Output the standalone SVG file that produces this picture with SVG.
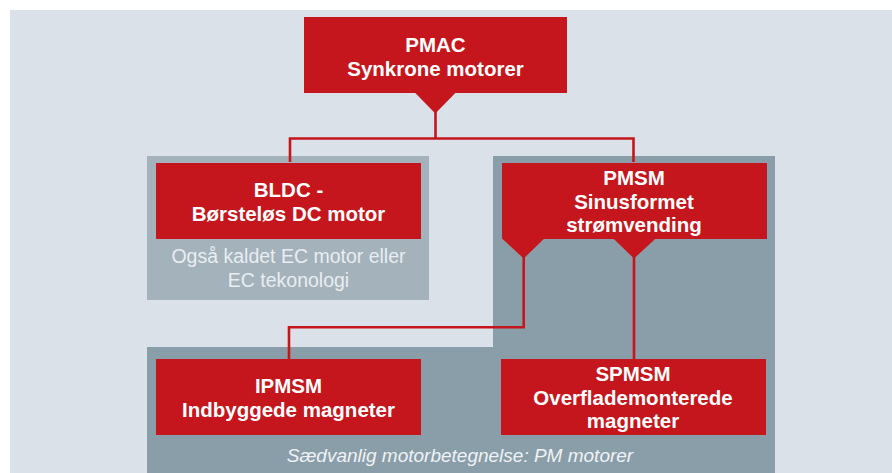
<svg xmlns="http://www.w3.org/2000/svg" width="892" height="473" viewBox="0 0 892 473">
<style>
.box{fill:#c4161c}
.t{font-family:"Liberation Sans",Arial,sans-serif;font-weight:bold;font-size:20.5px;fill:#ffffff;text-anchor:middle}
.note{font-family:"Liberation Sans",Arial,sans-serif;font-size:19.5px;fill:#e9edf0;text-anchor:middle}
.foot{font-family:"Liberation Sans",Arial,sans-serif;font-style:italic;font-size:19px;fill:#eef2f5;text-anchor:middle}
.ln{fill:none;stroke:#c4161c;stroke-width:2.6}
</style>
<rect x="0" y="0" width="892" height="473" fill="#ffffff"/>
<rect x="10" y="10" width="882" height="463" fill="#dae1e8"/>
<!-- panels -->
<rect x="147" y="156" width="282" height="144" fill="#a4b2bc"/>
<path d="M493 156H775V473H147V347H493Z" fill="#8a9ea9"/>
<g id="connectors">
<path class="ln" d="M435.5 112V138.5M290 162V138.5H633.5V162"/>
<path class="ln" d="M523.7 257V327.3H289V359"/>
<path class="ln" d="M634 257V359"/>
</g>
<g id="pmac">
<rect class="box" x="304" y="17" width="263" height="76"/>
<polygon class="box" points="414.3,92 456.3,92 435.3,113.5"/>
<text class="t" x="435.5" y="52">PMAC</text>
<text class="t" x="435.5" y="76">Synkrone motorer</text>
</g>
<g id="bldc">
<rect class="box" x="156" y="163" width="265" height="76"/>
<text class="t" x="288.5" y="197">BLDC -</text>
<text class="t" x="288.5" y="221">Børsteløs DC motor</text>
<text class="note" x="288.5" y="263">Også kaldet EC motor eller</text>
<text class="note" x="288.5" y="287">EC tekonologi</text>
</g>
<g id="pmsm">
<rect class="box" x="502" y="163" width="265" height="76"/>
<polygon class="box" points="502,238.5 544.3,238.5 523.7,258.5"/>
<polygon class="box" points="613.3,238.5 655.7,238.5 634,258.5"/>
<text class="t" x="634" y="185">PMSM</text>
<text class="t" x="634" y="209">Sinusformet</text>
<text class="t" x="634" y="232">strømvending</text>
</g>
<g id="ipmsm">
<rect class="box" x="156" y="359" width="265" height="76"/>
<text class="t" x="288.5" y="393">IPMSM</text>
<text class="t" x="288.5" y="417">Indbyggede magneter</text>
</g>
<g id="spmsm">
<rect class="box" x="501" y="359" width="265" height="76"/>
<text class="t" x="633" y="381">SPMSM</text>
<text class="t" x="633" y="405">Overflademonterede</text>
<text class="t" x="633" y="428">magneter</text>
</g>
<text class="foot" x="460" y="462">Sædvanlig motorbetegnelse: PM motorer</text>
</svg>
